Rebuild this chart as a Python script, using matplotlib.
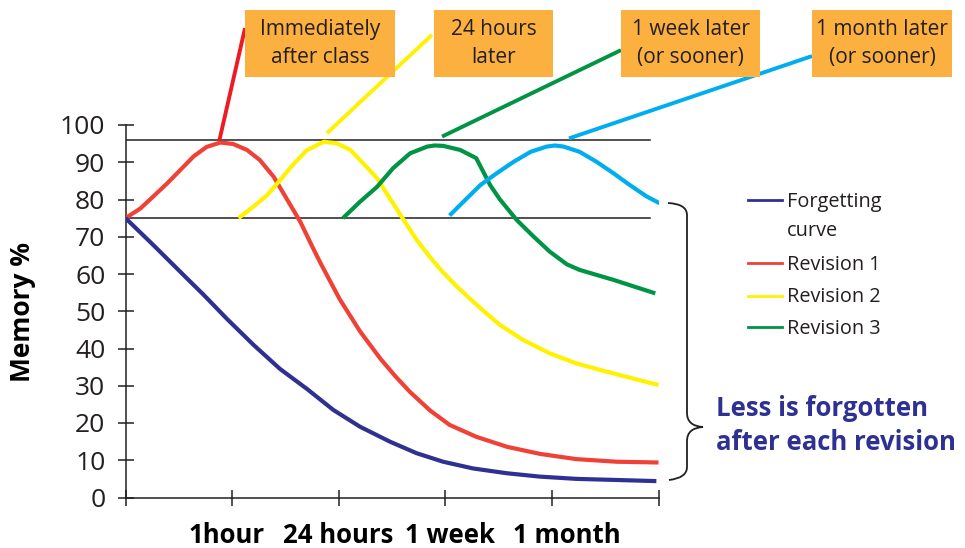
import matplotlib
matplotlib.use('Agg')
import matplotlib.pyplot as plt
from matplotlib.patches import Rectangle, PathPatch
from matplotlib.path import Path
from matplotlib.lines import Line2D

plt.rcParams['font.family'] = ['Open Sans', 'DejaVu Sans']

# x: 0 = start, 1 = 1 hour, 2 = 24 hours, 3 = 1 week, 4 = 1 month, 5 = end
forget_x = [0, 0.26, 0.57, 0.73, 0.95, 1.2, 1.45, 1.7, 1.95, 2.2, 2.48, 2.73, 2.98,
            3.26, 3.58, 3.89, 4.23, 4.61, 4.98]
forget_y = [75, 67.8, 59.0, 54.5, 48.0, 41.0, 34.5, 29.2, 23.5, 19.0, 15.0, 11.9, 9.6,
            7.8, 6.5, 5.6, 5.0, 4.7, 4.4]

rev1_x = [0, 0.14, 0.26, 0.39, 0.51, 0.64, 0.76, 0.89, 1.01, 1.14, 1.26, 1.39, 1.51,
          1.64, 1.76, 1.83, 2.01, 2.2, 2.39, 2.53, 2.67, 2.86, 3.04, 3.29, 3.58, 3.89,
          4.23, 4.61, 5.0]
rev1_y = [75, 77.6, 80.8, 84.3, 87.8, 91.6, 94.1, 95.3, 94.9, 93.3, 90.6, 86.1, 80.3,
          74.0, 66.9, 62.9, 53.2, 44.6, 37.3, 32.6, 28.3, 23.3, 19.5, 16.3, 13.6, 11.7,
          10.3, 9.6, 9.4]

rev2_x = [1.06, 1.2, 1.33, 1.45, 1.57, 1.7, 1.86, 1.98, 2.11, 2.23, 2.36, 2.48, 2.61,
          2.73, 2.86, 2.98, 3.11, 3.23, 3.39, 3.51, 3.73, 3.98, 4.23, 4.51, 5.0]
rev2_y = [75, 78.1, 81.2, 85.2, 89.3, 93.2, 95.5, 95.1, 93.3, 89.7, 85.7, 80.3, 74.5,
          69.2, 64.4, 60.4, 56.6, 53.4, 49.3, 46.4, 42.3, 38.7, 36.0, 33.8, 30.2]

rev3_x = [2.04, 2.2, 2.36, 2.51, 2.67, 2.83, 2.9, 2.98, 3.14, 3.29, 3.33, 3.42, 3.51,
          3.67, 3.83, 3.98, 4.14, 4.26, 4.58, 4.97]
rev3_y = [75, 79.4, 83.4, 88.4, 92.4, 94.2, 94.5, 94.4, 93.3, 91.1, 88.9, 83.9, 80.1,
          74.5, 70.0, 66.0, 62.6, 61.1, 58.4, 54.8]

rev4_x = [3.04, 3.17, 3.33, 3.48, 3.64, 3.8, 3.95, 4.03, 4.11, 4.26, 4.42, 4.58, 4.73,
          4.89, 5.01]
rev4_y = [75.7, 79.4, 83.9, 87.0, 90.1, 92.8, 94.2, 94.5, 94.2, 92.8, 90.1, 87.0, 83.9,
          80.8, 79.0]

band_levels = [96, 75]
band_end = 4.92

box_labels = ['Immediately\nafter class', '24 hours\nlater', '1 week later\n(or sooner)', '1 month later\n(or sooner)']
box_left = [1.121, 2.894, 4.648, 6.44]
box_right = [2.528, 4.01, 5.952, 7.753]
box_bottom, box_top = 112.9, 130.9

# leader lines: from the peak of each revision to its box
lead_x0 = [0.88, 1.89, 2.97, 4.16]
lead_y0 = [95.8, 97.8, 96.9, 96.4]
lead_x1 = [1.121, 2.875, 4.648, 6.44]
lead_y1 = [126.0, 124.2, 120.1, 118.5]

time_labels = ['1hour', '24 hours', '1 week', '1 month']
time_pos = [0.953, 1.997, 3.045, 4.14]

DARK = '#231F20'
C_FORGET = '#2E3192'
C_REV1 = '#EF4136'
C_REV2 = '#FFF200'
C_REV3 = '#009444'
C_REV4 = '#00AEEF'
C_LEAD = ['#ED1C24', C_REV2, C_REV3, C_REV4]
C_BOX = '#FBB040'

W, H = 965, 548
fig = plt.figure(figsize=(W / 100, H / 100), dpi=100)
ax = fig.add_axes([125.5 / W, 1 - 497.5 / H, 533 / W, 372.5 / H])
ax.set_xlim(0, 5)
ax.set_ylim(0, 100)

for lvl in band_levels:
    ax.plot([0, band_end], [lvl, lvl], color=DARK, lw=1.1, zorder=2)

lw = 3.0
kw = dict(lw=lw, solid_capstyle='butt', solid_joinstyle='round')
ax.plot(forget_x, forget_y, color=C_FORGET, zorder=4, **kw)
ax.plot(rev1_x, rev1_y, color=C_REV1, zorder=3, **kw)
ax.plot(rev2_x, rev2_y, color=C_REV2, zorder=3, **kw)
ax.plot(rev3_x, rev3_y, color=C_REV3, zorder=3, **kw)
ax.plot(rev4_x, rev4_y, color=C_REV4, zorder=3, **kw)

for x0, y0, x1, y1, c in zip(lead_x0, lead_y0, lead_x1, lead_y1, C_LEAD):
    ax.plot([x0, x1], [y0, y1], color=c, lw=2.8, clip_on=False,
            solid_capstyle='butt', zorder=3)

for lab, l, r in zip(box_labels, box_left, box_right):
    ax.add_patch(Rectangle((l, box_bottom), r - l, box_top - box_bottom,
                           facecolor=C_BOX, edgecolor='none', clip_on=False, zorder=5))
    ax.text((l + r) / 2, (box_bottom + box_top) / 2, lab, ha='center', va='center',
            fontsize=15, color=DARK, linespacing=1.45, zorder=6)

# axes styling
for s in ['top', 'right']:
    ax.spines[s].set_visible(False)
for s in ['left', 'bottom']:
    ax.spines[s].set_color(DARK)
    ax.spines[s].set_linewidth(1.1)
ax.set_yticks(range(0, 101, 10))
ax.set_xticks(range(0, 6))
ax.set_xticklabels([])
ax.tick_params(axis='both', direction='inout', length=12, width=1.1, color=DARK)
ax.tick_params(axis='y', labelsize=19, labelcolor=DARK, pad=8.5)

for lab, xp in zip(time_labels, time_pos):
    ax.text(xp, -10.2, lab, ha='center', va='center', fontsize=18.5,
            fontweight='bold', color='black', clip_on=False)


def fpx(x, y):
    return (x / W, 1 - y / H)


fig.text(*fpx(22, 312), 'Memory %', rotation=90, ha='center', va='center',
         fontsize=19, fontweight='bold', color='black')

# legend (drawn by hand so the sample line sits on the first text line)
leg_names = ['Forgetting\ncurve', 'Revision 1', 'Revision 2', 'Revision 3']
leg_colors = [C_FORGET, C_REV1, C_REV2, C_REV3]
leg_y = [200, 263, 296, 327]
leg_text_y = [216.5, 264.5, 297.5, 328.5]
for name, c, y, ty in zip(leg_names, leg_colors, leg_y, leg_text_y):
    (x0, yy), (x1, _) = fpx(748, y), fpx(782, y)
    fig.add_artist(Line2D([x0, x1], [yy, yy], color=c, lw=2.0, transform=fig.transFigure))
    fig.text(*fpx(787, ty), name, ha='left', va='center', fontsize=14.3,
             color=DARK, linespacing=1.55)

# brace
brace = [
    (668, 203), (687, 204), (687, 215),
    (687, 413), (687, 426), (703, 427),
    (687, 428), (687, 441), (687, 467),
    (687, 478), (669, 480),
]
codes = [Path.MOVETO, Path.CURVE3, Path.CURVE3,
         Path.LINETO, Path.CURVE3, Path.CURVE3,
         Path.CURVE3, Path.CURVE3, Path.LINETO,
         Path.CURVE3, Path.CURVE3]
fig.add_artist(PathPatch(Path([fpx(x, y) for x, y in brace], codes),
                         facecolor='none', edgecolor=DARK, lw=1.3,
                         transform=fig.transFigure))

fig.text(*fpx(716, 425.5), 'Less is forgotten\nafter each revision', ha='left', va='center',
         fontsize=18.5, fontweight='bold', color=C_FORGET, linespacing=1.35)

fig.savefig('out.png', dpi=100)
